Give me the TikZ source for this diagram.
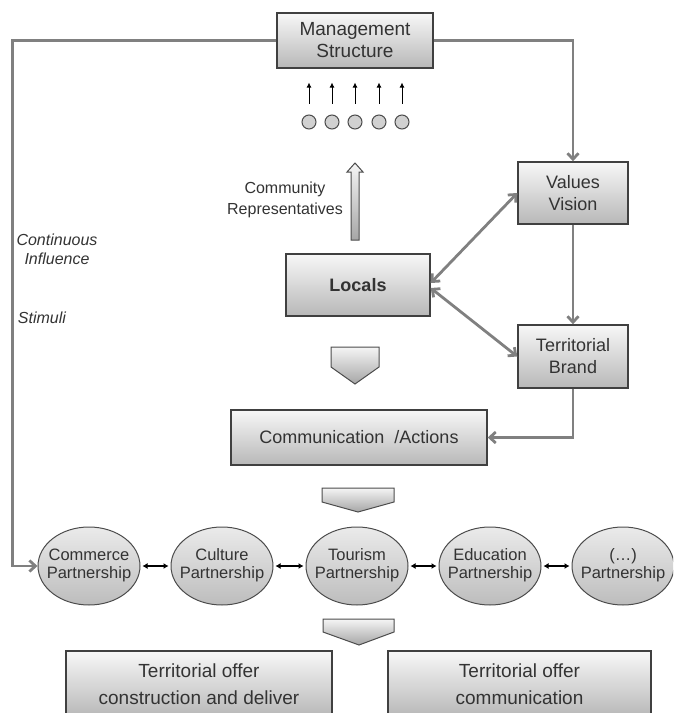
\documentclass[tikz,border=0pt]{standalone}
\usepackage{fontspec}
\setmainfont{Liberation Sans}
\usetikzlibrary{arrows.meta,shapes.geometric}

\begin{document}
\begin{tikzpicture}[x = 1pt, y = -1pt,
    >={Straight Barb[length=6pt, width=11pt]},
    box/.style = {draw=black!75, line width=1.4pt, top color=black!3, bottom color=black!28,
                  text=black!80, align=center, inner sep=0pt, font=\fontsize{18}{22}\selectfont},
    partner/.style = {ellipse, draw=black!70, line width=1pt, top color=black!8, bottom color=black!26,
                  text=black!80, inner sep=0pt, minimum width=102pt, minimum height=78pt,
                  font=\fontsize{16.5}{18}\selectfont},
    dot/.style = {circle, draw=black!70, line width=1pt, fill=black!18, minimum size=14pt, inner sep=0pt},
    flow/.style = {draw=black!50, line width=2.8pt},
    link/.style = {black, line width=1.3pt, shorten <=2pt, shorten >=2pt,
                  {Latex[length=5pt, width=6pt]}-{Latex[length=5pt, width=6pt]}},
    chev/.style = {draw=black!70, line width=1pt, top color=black!4, bottom color=black!35},
    label/.style = {text=black!80, align=center}]
\clip (0,0) rectangle (673,713);

% boxes
\node[box, minimum width=156pt, minimum height=55pt, font=\fontsize{19}{22}\selectfont] (mgmt) at (355,40.5) {Management\\Structure};
\node[box, minimum width=110pt, minimum height=62pt] (values) at (573,193) {Values\\Vision};
\node[box, minimum width=144pt, minimum height=62pt, font=\fontsize{18}{22}\selectfont\bfseries] (locals) at (358,285) {Locals};
\node[box, minimum width=110pt, minimum height=63pt] (brand) at (573,356.5) {Territorial\\Brand};
\node[box, minimum width=256pt, minimum height=55pt] (comm) at (359,437.5) {Communication\ \ /Actions};
\node[box, minimum width=266pt, minimum height=66pt, font=\fontsize{19}{27}\selectfont] (offer1) at (199,684) {Territorial offer\\construction and deliver};
\node[box, minimum width=263pt, minimum height=66pt, font=\fontsize{19}{27}\selectfont] (offer2) at (519.5,684) {Territorial offer\\communication};

% partnerships
\foreach \n/\x/\t in {commerce/89/Commerce, culture/222/Culture, tourism/357/Tourism, education/490/Education, more/623/{(\ldots)}} {
	\node[partner] (\n) at (\x,566) {\makebox[0pt]{\begin{tabular}{@{}c@{}}\t\\Partnership\end{tabular}}};
}
\foreach \a/\b in {commerce/culture, culture/tourism, tourism/education, education/more} {
	\draw[link] (\a.east) to (\b.west);
}

% representatives
\foreach \i/\x in {1/309, 2/332, 3/355, 4/379, 5/402} {
	\node[dot] (dot\i) at (\x,122) {};
	\draw[-{Latex[length=5pt, width=5pt]}, line width=1pt] ([yshift=11pt]dot\i.north) to ++(0,-21);
}
\draw[chev] (351,240) -- (351,172) -- (347,172) -- (355,163) -- (363,172) -- (359,172) -- (359,240) -- cycle;
\node[label, font=\fontsize{16}{21}\selectfont] (repr) at (285,200) {Community\\Representatives};

% chevrons
\draw[chev] (331,347) -- (379,347) -- (379,367) -- (355,384) -- (331,367) -- cycle;
\draw[chev] (322,488) -- (394,488) -- (394,502) -- (358,512) -- (322,502) -- cycle;
\draw[chev] (323,619) -- (394,619) -- (394,632) -- (359,645) -- (323,632) -- cycle;

% side labels
\node[label, font=\fontsize{16}{19}\selectfont\itshape] (influence) at (57,249) {Continuous\\Influence};
\node[label, font=\fontsize{16}{19}\selectfont\itshape] (stimuli) at (42,318) {Stimuli};

% connectors
\draw[flow, ->] (mgmt.west) to ++(-264,0) |- (commerce.west);
\draw[flow, ->] (mgmt.east) -| (values.north);
\draw[flow, ->] (values.south) to (brand.north);
\draw[flow, ->] (brand.south) |- (comm.east);
\draw[flow, <->] ([yshift=2pt]locals.east) to (values.west);
\draw[flow, <->] ([yshift=-3pt]locals.east) to (brand.west);
\end{tikzpicture}
\end{document}
